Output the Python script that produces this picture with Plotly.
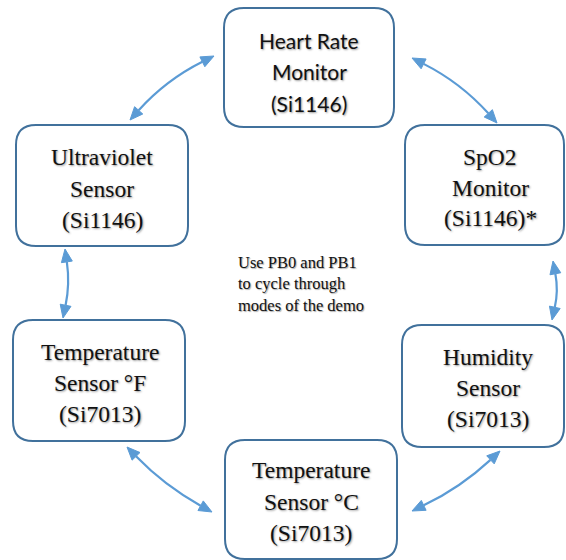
import plotly.graph_objects as go
import math

# ---- data ----
node_labels = [
    ["Heart Rate", "Monitor", "(Si1146)"],
    ["Ultraviolet", "Sensor", "(Si1146)"],
    ["SpO2", "Monitor", "(Si1146)*"],
    ["Temperature", "Sensor °F", "(Si7013)"],
    ["Humidity", "Sensor", "(Si7013)"],
    ["Temperature", "Sensor °C", "(Si7013)"],
]
center_note = ["Use PB0 and PB1", "to cycle through", "modes of the demo"]
# links between nodes (indices)
links = [(0, 1), (0, 2), (1, 3), (2, 4), (3, 5), (4, 5)]

# ---- layout (pixel geometry) ----
W, H = 566, 560
boxes = [
    (224, 8, 394, 127),
    (16, 125, 188, 246),
    (405, 125, 564, 245),
    (13, 320, 185, 441),
    (402, 325, 564, 447),
    (225, 440, 397, 559),
]
label_pos = [(309, 40), (102, 157), (490, 157), (100, 352), (488, 357), (311, 470)]
label_pitch = [31.5, 31.5, 30.5, 31, 31, 31.5]
label_font = ["Lato", "Liberation Serif", "Liberation Serif", "Liberation Serif",
              "Liberation Serif", "Liberation Serif"]
label_size = [21, 23.5, 23.5, 23.5, 23.5, 23.5]
# arrow geometry: (start tip, end tip, bow offset)
arrow_geom = [
    ((214, 56), (130, 120), 5),
    ((412, 58), (497, 123), -5),
    ((65, 249), (63, 318), -3),
    ((553, 261), (552, 320), -3),
    ((127, 447), (212, 512), 4),
    ((500, 451), (412, 511), -4),
]

BOX_COLOR = "#41719C"
ARROW_COLOR = "#5B9BD5"

fig = go.Figure()
shapes = []

def rrect(x0, y0, x1, y1, r=20):
    return (f"M {x0+r},{y0} L {x1-r},{y0} Q {x1},{y0} {x1},{y0+r} "
            f"L {x1},{y1-r} Q {x1},{y1} {x1-r},{y1} L {x0+r},{y1} "
            f"Q {x0},{y1} {x0},{y1-r} L {x0},{y0+r} Q {x0},{y0} {x0+r},{y0} Z")

for (x0, y0, x1, y1) in boxes:
    shapes.append(dict(type="path", path=rrect(x0, y0, x1, y1), xref="x", yref="y",
                       line=dict(color=BOX_COLOR, width=2), fillcolor="white", layer="below"))

def head(tip, frm, L=13, Wd=11):
    dx, dy = tip[0] - frm[0], tip[1] - frm[1]
    n = math.hypot(dx, dy)
    ux, uy = dx / n, dy / n
    bx, by = tip[0] - ux * L, tip[1] - uy * L
    px, py = -uy, ux
    p1 = (bx + px * Wd / 2, by + py * Wd / 2)
    p2 = (bx - px * Wd / 2, by - py * Wd / 2)
    return (f"M {tip[0]},{tip[1]} L {p1[0]:.2f},{p1[1]:.2f} L {p2[0]:.2f},{p2[1]:.2f} Z",
            (bx, by))

for (a, b, bow) in arrow_geom:
    mx, my = (a[0] + b[0]) / 2, (a[1] + b[1]) / 2
    dx, dy = b[0] - a[0], b[1] - a[1]
    n = math.hypot(dx, dy)
    cx, cy = mx + (-dy / n) * bow * 2, my + (dx / n) * bow * 2
    ha, base_a = head(a, (cx, cy))
    hb, base_b = head(b, (cx, cy))
    shapes.append(dict(type="path",
                       path=f"M {base_a[0]:.2f},{base_a[1]:.2f} Q {cx:.2f},{cy:.2f} {base_b[0]:.2f},{base_b[1]:.2f}",
                       xref="x", yref="y", line=dict(color=ARROW_COLOR, width=2.2)))
    for h in (ha, hb):
        shapes.append(dict(type="path", path=h, xref="x", yref="y",
                           line=dict(color=ARROW_COLOR, width=1), fillcolor=ARROW_COLOR))

annotations = []
for lines, (x, y), pitch, fnt, sz in zip(node_labels, label_pos, label_pitch, label_font, label_size):
    for i, ln in enumerate(lines):
        annotations.append(dict(x=x, y=y + i * pitch, xref="x", yref="y", text=ln,
                                showarrow=False, xanchor="center", yanchor="middle",
                                font=dict(family=fnt, size=sz, color="#111111",
                                          shadow="1px 1px 2px #999999")))
for i, ln in enumerate(center_note):
    annotations.append(dict(x=236, y=262 + i * 21.5, xref="x", yref="y", text=ln,
                            showarrow=False, xanchor="left", yanchor="middle",
                            font=dict(family="Liberation Serif", size=16.5, color="#111111",
                                      shadow="1px 1px 1px #aaaaaa")))

fig.update_layout(
    width=W, height=H, margin=dict(l=0, r=0, t=0, b=0),
    paper_bgcolor="white", plot_bgcolor="white",
    xaxis=dict(range=[0, W], visible=False, fixedrange=True),
    yaxis=dict(range=[H, 0], visible=False, fixedrange=True),
    shapes=shapes, annotations=annotations, showlegend=False,
)
fig.write_html("out.html", config={"displayModeBar": False},
               post_script="document.body.style.margin='0';document.body.style.overflow='hidden';")
